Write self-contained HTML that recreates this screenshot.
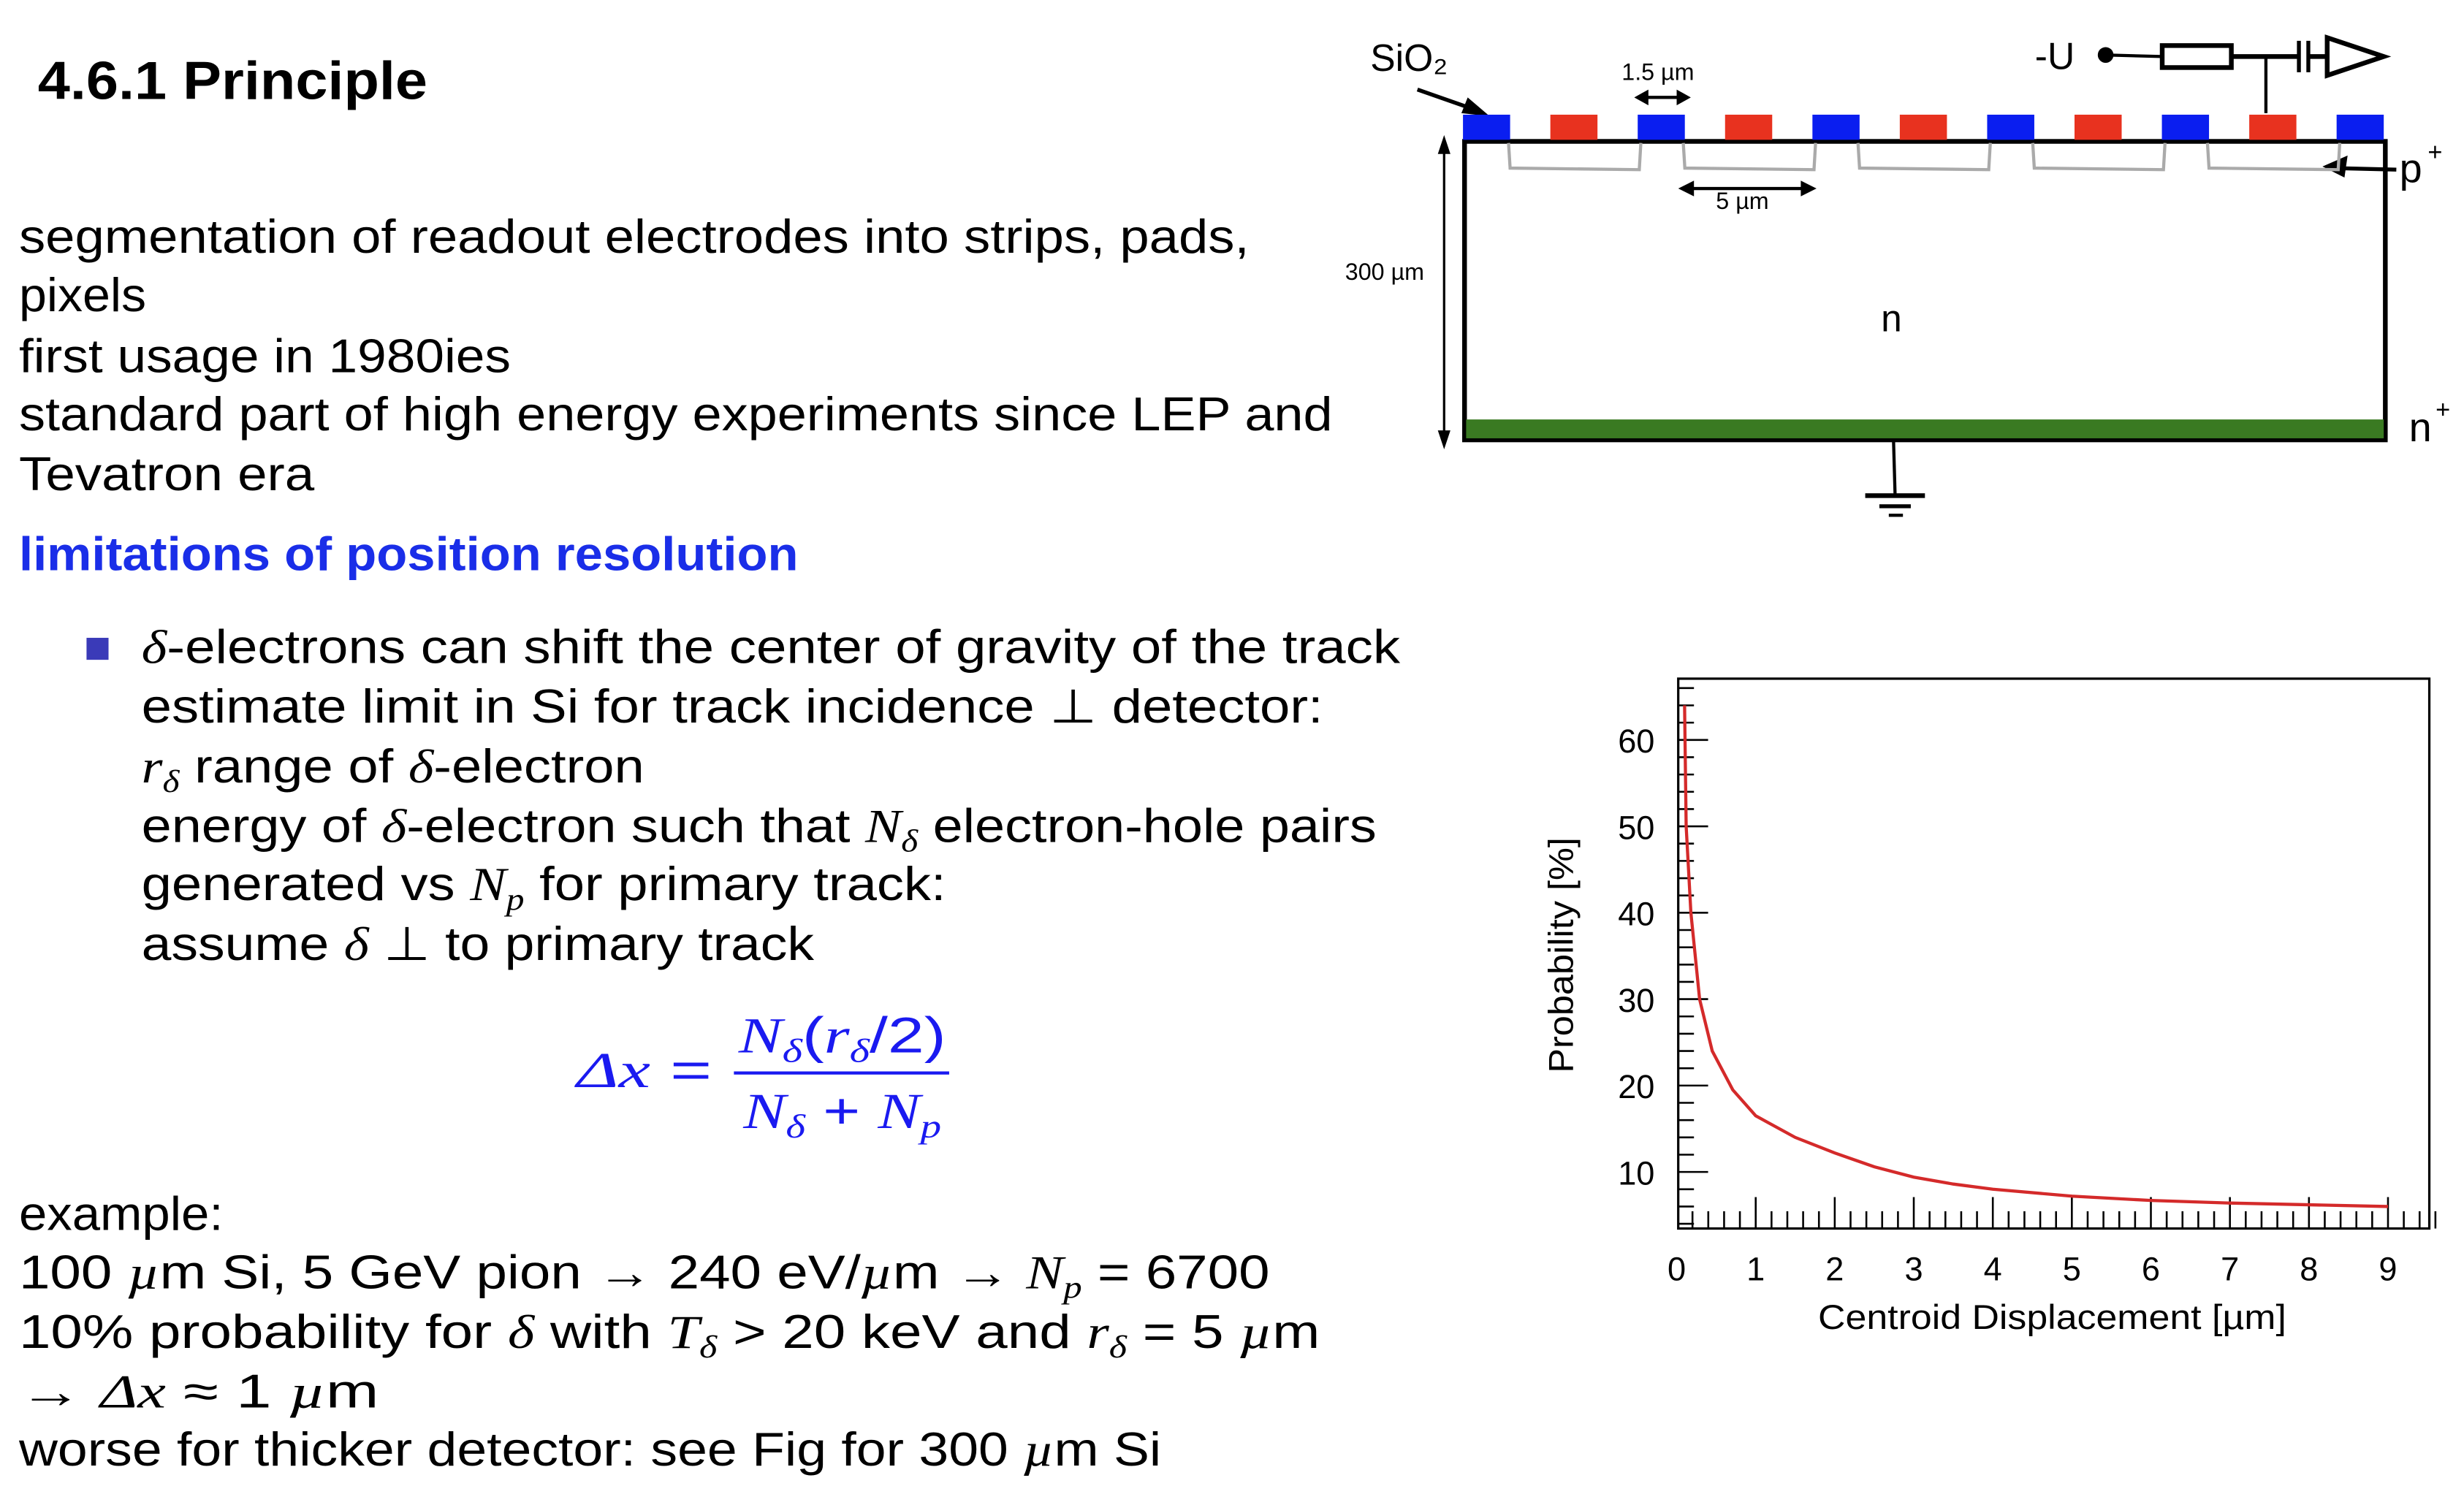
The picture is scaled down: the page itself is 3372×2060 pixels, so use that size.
<!DOCTYPE html>
<html><head><meta charset="utf-8"><style>
html,body{margin:0;padding:0;background:#fff;width:3372px;height:2060px;overflow:hidden}
svg{display:block}
text{font-family:"Liberation Sans",sans-serif}
.m{font-family:"Liberation Serif",serif;font-style:italic}
</style></head><body>
<svg id="root" width="3372" height="2060" viewBox="0 0 1568 958">
<g font-size="30" fill="#000">
<text x="24" y="63" font-size="34" font-weight="bold" textLength="248" lengthAdjust="spacingAndGlyphs">4.6.1 Principle</text>
<text x="12" y="161" textLength="783" lengthAdjust="spacingAndGlyphs">segmentation of readout electrodes into strips, pads,</text>
<text x="12" y="198" textLength="81" lengthAdjust="spacingAndGlyphs">pixels</text>
<text x="12" y="237" textLength="313" lengthAdjust="spacingAndGlyphs">first usage in 1980ies</text>
<text x="12" y="274" textLength="836" lengthAdjust="spacingAndGlyphs">standard part of high energy experiments since LEP and</text>
<text x="12" y="312" textLength="188" lengthAdjust="spacingAndGlyphs">Tevatron era</text>
<text x="12" y="363" fill="#1a2ee8" font-weight="bold" textLength="496" lengthAdjust="spacingAndGlyphs">limitations of position resolution</text>
<rect x="55" y="406" width="14" height="14" fill="#3a3ab8"/>
<text x="90" y="422" textLength="801" lengthAdjust="spacingAndGlyphs"><tspan class="m">δ</tspan>-electrons can shift the center of gravity of the track</text>
<text x="90" y="460" textLength="752" lengthAdjust="spacingAndGlyphs">estimate limit in Si for track incidence ⊥ detector:</text>
<text x="90" y="498" textLength="320" lengthAdjust="spacingAndGlyphs"><tspan class="m">r</tspan><tspan class="m" font-size="20" dy="6">δ</tspan><tspan dy="-6"> range of </tspan><tspan class="m">δ</tspan>-electron</text>
<text x="90" y="536" textLength="786" lengthAdjust="spacingAndGlyphs">energy of <tspan class="m">δ</tspan>-electron such that <tspan class="m">N</tspan><tspan class="m" font-size="20" dy="6">δ</tspan><tspan dy="-6"> electron-hole pairs</tspan></text>
<text x="90" y="573" textLength="512" lengthAdjust="spacingAndGlyphs">generated vs <tspan class="m">N</tspan><tspan class="m" font-size="20" dy="6">p</tspan><tspan dy="-6"> for primary track:</tspan></text>
<text x="90" y="611" textLength="428" lengthAdjust="spacingAndGlyphs">assume <tspan class="m">δ</tspan> ⊥ to primary track</text>
<g fill="#1a1af0" font-size="32">
<text x="367" y="692" textLength="86" lengthAdjust="spacingAndGlyphs"><tspan class="m">Δx</tspan> =</text>
<text x="470" y="670" textLength="132" lengthAdjust="spacingAndGlyphs"><tspan class="m">N</tspan><tspan class="m" font-size="21" dy="6">δ</tspan><tspan dy="-6">(</tspan><tspan class="m">r</tspan><tspan class="m" font-size="21" dy="6">δ</tspan><tspan dy="-6">/2)</tspan></text>
<rect x="467" y="682" width="137" height="2"/>
<text x="473" y="718" textLength="126" lengthAdjust="spacingAndGlyphs"><tspan class="m">N</tspan><tspan class="m" font-size="21" dy="6">δ</tspan><tspan dy="-6"> + </tspan><tspan class="m">N</tspan><tspan class="m" font-size="21" dy="6">p</tspan></text>
</g>
<text x="12" y="783" textLength="130" lengthAdjust="spacingAndGlyphs">example:</text>
<text x="12" y="820" textLength="796" lengthAdjust="spacingAndGlyphs">100 <tspan class="m">µ</tspan>m Si, 5 GeV pion → 240 eV/<tspan class="m">µ</tspan>m → <tspan class="m">N</tspan><tspan class="m" font-size="20" dy="6">p</tspan><tspan dy="-6"> = 6700</tspan></text>
<text x="12" y="858" textLength="828" lengthAdjust="spacingAndGlyphs">10% probability for <tspan class="m">δ</tspan> with <tspan class="m">T</tspan><tspan class="m" font-size="20" dy="6">δ</tspan><tspan dy="-6"> &gt; 20 keV and </tspan><tspan class="m">r</tspan><tspan class="m" font-size="20" dy="6">δ</tspan><tspan dy="-6"> = 5 </tspan><tspan class="m">µ</tspan>m</text>
<text x="12" y="896" textLength="229" lengthAdjust="spacingAndGlyphs">→ <tspan class="m">Δx</tspan> ≈ 1 <tspan class="m">µ</tspan>m</text>
<text x="12" y="933" textLength="727" lengthAdjust="spacingAndGlyphs">worse for thicker detector: see Fig for 300 <tspan class="m">µ</tspan>m Si</text>
</g>

<g id="diagram">
<rect x="932" y="90" width="586" height="190" fill="#fff" stroke="#000" stroke-width="3"/>
<rect x="933" y="267" width="584" height="12" fill="#3a7a22"/>
<line x1="1205" y1="280" x2="1206" y2="315" stroke="#000" stroke-width="2"/>
<rect x="1187" y="314" width="38" height="3"/>
<rect x="1196" y="321" width="20" height="2.5"/>
<rect x="1202" y="327" width="9" height="2"/>
<text x="872" y="45" font-size="24">SiO₂</text>
<line x1="902" y1="57" x2="942" y2="71" stroke="#000" stroke-width="2.5"/>
<polygon points="948,74 934,62 930,72" fill="#000"/>
<text x="1032" y="51" font-size="15">1.5 µm</text>
<line x1="1046" y1="62" x2="1070" y2="62" stroke="#000" stroke-width="2"/>
<polygon points="1040,62 1049,57 1049,67"/><polygon points="1076,62 1067,57 1067,67"/>
<text x="1092" y="133" font-size="15">5 µm</text>
<line x1="1074" y1="120" x2="1150" y2="120" stroke="#000" stroke-width="2"/>
<polygon points="1068,120 1078,115 1078,125"/><polygon points="1156,120 1146,115 1146,125"/>
<text x="856" y="178" font-size="15">300 µm</text>
<line x1="919" y1="90" x2="919" y2="282" stroke="#000" stroke-width="1.5"/>
<polygon points="915,98 919,86 923,98"/><polygon points="915,274 919,286 923,274"/>
<text x="1197" y="211" font-size="24">n</text>
<text x="1527" y="116" font-size="26">p</text><text x="1545" y="102" font-size="16">+</text>
<line x1="1485" y1="107" x2="1525" y2="108" stroke="#000" stroke-width="2.5"/>
<polygon points="1478,106 1494,99 1492,113"/>
<text x="1533" y="281" font-size="26">n</text><text x="1550" y="266" font-size="16">+</text>
<text x="1295" y="44" font-size="24">-U</text>
<circle cx="1340" cy="35" r="5"/>
<line x1="1340" y1="35" x2="1376" y2="36" stroke="#000" stroke-width="2"/>
<rect x="1376" y="29" width="44" height="14" fill="#fff" stroke="#000" stroke-width="3"/>
<line x1="1420" y1="36" x2="1462" y2="36" stroke="#000" stroke-width="3"/>
<line x1="1442" y1="36" x2="1442" y2="72" stroke="#000" stroke-width="2"/>
<line x1="1463" y1="26" x2="1463" y2="46" stroke="#000" stroke-width="2.5"/>
<line x1="1469" y1="26" x2="1469" y2="46" stroke="#000" stroke-width="2.5"/>
<line x1="1469" y1="36" x2="1482" y2="36" stroke="#000" stroke-width="3"/>
<polygon points="1481,24 1517,36 1481,48" fill="#fff" stroke="#000" stroke-width="3"/>
</g>

<g id="chart">
<rect x="1068" y="432" width="478" height="350" fill="none" stroke="#000" stroke-width="1.5"/>
<g id="ticks"></g>
<path id="curve" fill="none" stroke="#d42a2a" stroke-width="2"/>
<text transform="translate(1001,608) rotate(-90)" text-anchor="middle" font-size="22" textLength="150" lengthAdjust="spacingAndGlyphs">Probability [%]</text>
<text x="1306" y="846" text-anchor="middle" font-size="22" textLength="298" lengthAdjust="spacingAndGlyphs">Centroid Displacement [µm]</text>
</g>
</svg>
<script>
const xValues=[0.1,0.12,0.18,0.29,0.45,0.71,1,1.5,2,2.5,3,3.5,4,5,6,7,8,9];
const yValues=[64,50,40,30,24,19.5,16.5,14,12.2,10.6,9.4,8.6,8,7.2,6.7,6.4,6.2,6.0];
const xTickLabels=["0","1","2","3","4","5","6","7","8","9"];
const yTickLabels=["10","20","30","40","50","60"];
const NS="http://www.w3.org/2000/svg";
function xs(v){return 1067+v*50.3;}
function ys(v){return 746-(v-10)*5.5;}
const tg=document.getElementById('ticks');
function ln(x1,y1,x2,y2){const l=document.createElementNS(NS,'line');l.setAttribute('x1',x1);l.setAttribute('y1',y1);l.setAttribute('x2',x2);l.setAttribute('y2',y2);l.setAttribute('stroke','#000');l.setAttribute('stroke-width','1.2');tg.appendChild(l);return l;}
for(let v=4;v<=66;v+=2){const major=v%10===0;const l=ln(1068,ys(v),1068+(major?19:10),ys(v));

}
for(let i=1;i<=48;i++){const v=i*0.2;const major=i%5===0;const l=ln(xs(v),782,xs(v),782-(major?20:11));

}
xTickLabels.forEach(s=>{const t=document.createElementNS(NS,'text');t.setAttribute('x',xs(+s));t.setAttribute('y',815);t.setAttribute('text-anchor','middle');t.setAttribute('font-size','21');t.textContent=s;


tg.appendChild(t);});
yTickLabels.forEach(s=>{const t=document.createElementNS(NS,'text');t.setAttribute('x',1053);t.setAttribute('y',ys(+s)+8);t.setAttribute('text-anchor','end');t.setAttribute('font-size','21');t.textContent=s;


tg.appendChild(t);});
let d='';xValues.forEach((x,i)=>{d+=(i?'L':'M')+xs(x).toFixed(2)+','+ys(yValues[i]).toFixed(2);});
document.getElementById('curve').setAttribute('d',d);
const dg=document.getElementById('diagram');
const px=i=>931+i*55.6;
for(let i=0;i<11;i++){const x=px(i);const r=document.createElementNS(NS,'rect');r.setAttribute('x',x);r.setAttribute('y',73);r.setAttribute('width',30);r.setAttribute('height',16);r.setAttribute('fill',i%2?'#e8321f':'#0a1ef0');


dg.appendChild(r);}
for(let k=0;k<5;k++){const p=document.createElementNS(NS,'polyline');const a=px(2*k)+29,b=px(2*k+2)+1;p.setAttribute('points',`${a},91 ${a+1},107 ${b},108 ${b+1},91`);p.setAttribute('fill','none');p.setAttribute('stroke','#aaa');p.setAttribute('stroke-width','2');


dg.appendChild(p);}
</script>
</body></html>
